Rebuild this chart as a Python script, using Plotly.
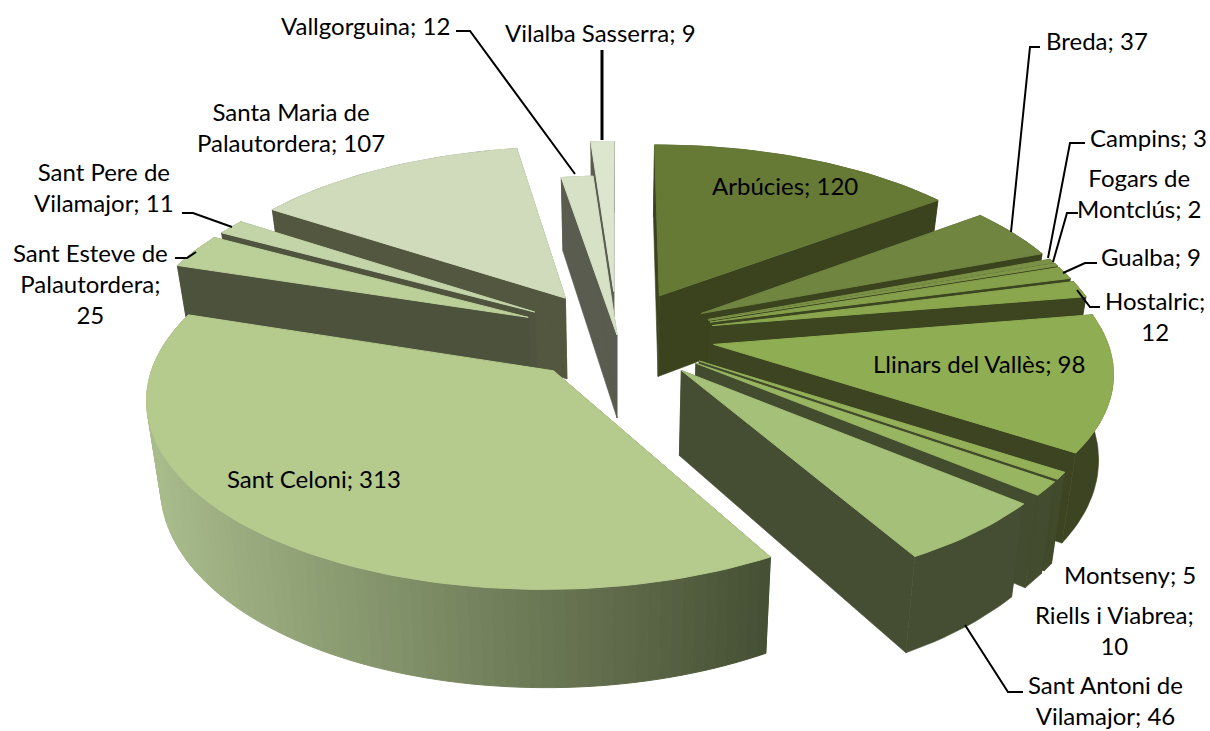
import math
import plotly.graph_objects as go

categories = ["Arbúcies", "Breda", "Campins", "Fogars de Montclús", "Gualba", "Hostalric",
              "Llinars del Vallès", "Montseny", "Riells i Viabrea", "Sant Antoni de Vilamajor",
              "Sant Celoni", "Sant Esteve de Palautordera", "Sant Pere de Vilamajor",
              "Santa Maria de Palautordera", "Vallgorguina", "Vilalba Sasserra"]
values = [120, 37, 3, 2, 9, 12, 98, 5, 10, 46, 313, 25, 11, 107, 12, 9]
pulls = [.25, .25, .25, .25, .25, .25, .25, .25, .25, .25, .25, .25, .25, .25, 0, .25]
top_colors = ["#667A36", "#6F8540", "#7A9145", "#7F9649", "#85A04B", "#8AA74E",
              "#8FAD52", "#93B058", "#98B561", "#A5C078",
              "#B5CA8D", "#BBCF98", "#C3D5A8", "#CFDBBA", "#D6E1C5", "#DCE6CE"]
wall_colors = ["#3A431E", "#3A431E", "#3A431E", "#3A431E", "#3C4420", "#3C4420",
               "#3C4422", "#414A2B", "#434C2F", "#454E33",
               "#465034", "#4D523D", "#50543F", "#54573F", "#595C4F", "#5A5D50"]

# projection of the pie's ground plane onto the page
CX, CY, SX, SY, PERSP, DEPTH, SHRINK = 617, 335, 392, 180, .13, 83, .03

def project(X, Y, drop=0.0):
    w = 1 + PERSP * Y
    return CX + SX * X / w * (1 - SHRINK * drop), CY - SY * Y / w + drop * DEPTH / w

def polygon(pts, color, width=.6):
    return go.Scatter(x=[p[0] for p in pts] + [pts[0][0]], y=[p[1] for p in pts] + [pts[0][1]],
                      mode="lines", fill="toself", fillcolor=color,
                      line=dict(color=color, width=width), hoverinfo="skip", showlegend=False)

def lerp_color(c1, c2, t):
    t = max(0, min(1, t))
    a = [int(c1[i:i + 2], 16) for i in (1, 3, 5)]
    b = [int(c2[i:i + 2], 16) for i in (1, 3, 5)]
    return "#%02x%02x%02x" % tuple(round(u + (v - u) * t) for u, v in zip(a, b))

total = sum(values)
slices = []
acc = 0
for i, v in enumerate(values):
    a0 = acc / total * 2 * math.pi
    acc += v
    a1 = acc / total * 2 * math.pi
    slices.append((i, a0, a1))

fig = go.Figure()
for i, a0, a1 in sorted(slices, key=lambda s: -math.cos((s[1] + s[2]) / 2)):
    mid = (a0 + a1) / 2
    ox, oy = pulls[i] * math.sin(mid), pulls[i] * math.cos(mid)
    n = max(2, int((a1 - a0) / math.radians(1.5)))
    rim = [(ox + math.sin(a0 + (a1 - a0) * k / n), oy + math.cos(a0 + (a1 - a0) * k / n)) for k in range(n + 1)]
    wc = wall_colors[i]
    # radial walls
    for e in (rim[0], rim[-1]):
        fig.add_trace(polygon([project(ox, oy), project(*e), project(*e, 1), project(ox, oy, 1)], wc))
    # outer wall
    if categories[i] == "Sant Celoni":
        for k in range(n):
            pts = [project(*rim[k]), project(*rim[k + 1]), project(*rim[k + 1], 1), project(*rim[k], 1)]
            xm = (pts[0][0] + pts[1][0]) / 2
            col = lerp_color("#A9BC8C", "#465034", (xm - 147) / (768 - 147))
            fig.add_trace(polygon(pts, col, 1))
    else:
        fig.add_trace(polygon([project(*p) for p in rim] + [project(*p, 1) for p in reversed(rim)], wc))
    # top face
    fig.add_trace(polygon([project(ox, oy)] + [project(*p) for p in rim], top_colors[i], 1))

leaders = [
    ([(456, 31), (470, 31), (575, 174)], 2),
    ([(602, 50), (602, 140)], 3),
    ([(1040, 47), (1030, 47), (1011, 232)], 2),
    ([(1085, 143), (1070, 143), (1048, 258)], 2),
    ([(1078, 213), (1067, 213), (1053, 262)], 2),
    ([(1097, 263), (1085, 263), (1063, 273)], 2),
    ([(1100, 307), (1090, 307), (1077, 290)], 2),
    ([(182, 213), (193, 213), (232, 227)], 2),
    ([(175, 258), (187, 258), (196, 252)], 2),
    ([(1023, 692), (1008, 692), (965, 625)], 2),
]
for pts, lw in leaders:
    fig.add_trace(go.Scatter(x=[p[0] for p in pts], y=[p[1] for p in pts], mode="lines",
                             line=dict(color="black", width=lw), hoverinfo="skip", showlegend=False))

labels = [
    ("Vallgorguina; 12", 365, 25), ("Vilalba Sasserra; 9", 600, 32), ("Breda; 37", 1097, 40),
    ("Campins; 3", 1148, 137), ("Fogars de<br>Montclús; 2", 1139, 193), ("Gualba; 9", 1151, 256),
    ("Hostalric;<br>12", 1155, 316), ("Llinars del Vallès; 98", 979, 363), ("Montseny; 5", 1130, 574),
    ("Riells i Viabrea;<br>10", 1114, 630), ("Sant Antoni de<br>Vilamajor; 46", 1105, 700),
    ("Sant Celoni; 313", 314, 478), ("Santa Maria de<br>Palautordera; 107", 291, 127),
    ("Sant Pere de<br>Vilamajor; 11", 104, 187), ("Sant Esteve de<br>Palautordera;<br>25", 90, 283),
    ("Arbúcies; 120", 785, 185),
]
annotations = [dict(x=x, y=y, text=t, showarrow=False, xanchor="center", yanchor="middle", borderpad=0,
                    font=dict(family="Lato", size=24, color="black"), align="center")
               for t, x, y in labels]

fig.update_layout(width=1210, height=731, margin=dict(l=0, r=0, t=0, b=0),
                  paper_bgcolor="white", plot_bgcolor="white", showlegend=False,
                  annotations=annotations, hovermode=False,
                  xaxis=dict(range=[0, 1210], visible=False, fixedrange=True),
                  yaxis=dict(range=[731, 0], visible=False, fixedrange=True))
fig.write_html("out.html", config={"displayModeBar": False},
               post_script="document.body.style.margin='0';document.documentElement.style.overflow='hidden';")
